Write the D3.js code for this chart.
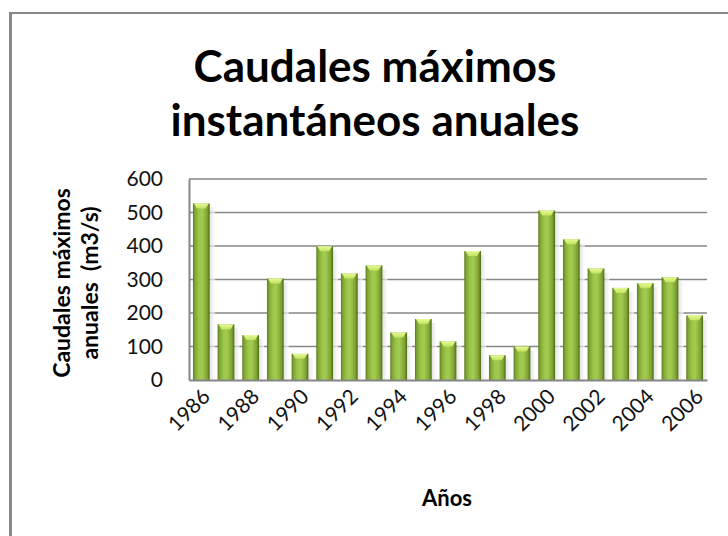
<!DOCTYPE html>
<html><head><meta charset="utf-8">
<script src="https://cdn.jsdelivr.net/npm/d3@7/dist/d3.min.js"></script>
<style>html,body{margin:0;padding:0;background:#fff;}svg{display:block;}</style>
</head><body>
<script>
const years = d3.range(1986, 2007).map(String);
const caudales = [527, 166, 134, 303, 78, 399, 318, 342, 142, 182, 115, 385, 74, 100, 506, 420, 333, 275, 289, 307, 193];
const yTicks = [0, 100, 200, 300, 400, 500, 600];
const xTickLabels = ["1986","1988","1990","1992","1994","1996","1998","2000","2002","2004","2006"];
const titleLines = ["Caudales máximos", "instantáneos anuales"];
const yTitleLines = ["Caudales máximos", "anuales\u00a0\u00a0(m3/s)"];
const xTitle = "Años";

const W = 728, H = 536;
const m = {left: 189, right: 21, top: 179, bottom: 156};
const svg = d3.select("body").append("svg").attr("width", W).attr("height", H);
const font = "Lato, 'Open Sans', sans-serif";

// outer frame
svg.append("line").attr("x1", 10).attr("x2", W).attr("y1", 13).attr("y2", 13).attr("stroke", "#888").attr("stroke-width", 2);
svg.append("line").attr("x1", 10.5).attr("x2", 10.5).attr("y1", 12).attr("y2", H).attr("stroke", "#888").attr("stroke-width", 3);

const x = d3.scaleBand().domain(years).range([m.left, W - m.right]).paddingInner(0.32).paddingOuter(0.16);
const y = d3.scaleLinear().domain([0, 600]).range([H - m.bottom, m.top]);

const defs = svg.append("defs");
const g1 = defs.append("linearGradient").attr("id", "barg").attr("x1", "0").attr("x2", "1").attr("y1", "0").attr("y2", "0");
[[0, "#5b7a1f"], [0.12, "#7fa634"], [0.35, "#9cc64a"], [0.55, "#a3cb4f"], [0.85, "#7ea332"], [1, "#4e6a1a"]].forEach(([o, c]) =>
  g1.append("stop").attr("offset", o).attr("stop-color", c));
const g2 = defs.append("linearGradient").attr("id", "capg").attr("x1", "0").attr("x2", "0").attr("y1", "0").attr("y2", "1");
[[0, "#e6fa98"], [1, "#c3e35e"]].forEach(([o, c]) => g2.append("stop").attr("offset", o).attr("stop-color", c));
const g3 = defs.append("linearGradient").attr("id", "shadg").attr("x1", "0").attr("x2", "1").attr("y1", "0").attr("y2", "0");
[[0, "#d8d8d8"], [1, "#ffffff"]].forEach(([o, c]) => g3.append("stop").attr("offset", o).attr("stop-color", c).attr("stop-opacity", 1));

// gridlines
svg.append("g").selectAll("line").data(yTicks.filter(d => d > 0)).join("line")
  .attr("x1", m.left).attr("x2", W - m.right)
  .attr("y1", d => y(d)).attr("y2", d => y(d))
  .attr("stroke", "#868686").attr("stroke-width", 1.5);

// y axis
const yAxis = svg.append("g").attr("transform", `translate(${m.left},0)`)
  .call(d3.axisLeft(y).tickValues(yTicks).tickSize(0).tickPadding(26));
yAxis.select(".domain").attr("stroke", "#868686").attr("stroke-width", 2);
yAxis.selectAll("text").attr("font-family", font).attr("font-size", 21).attr("fill", "#111");

// bars
const bars = svg.append("g");
bars.selectAll("rect.sh").data(caudales).join("rect").attr("class", "sh")
  .attr("x", (d, i) => x(years[i]) + x.bandwidth())
  .attr("y", d => y(d) + 4)
  .attr("width", 5)
  .attr("height", d => y(0) - y(d) - 4)
  .attr("fill", "url(#shadg)").attr("opacity", 0.7);
bars.selectAll("rect.b").data(caudales).join("rect").attr("class", "b")
  .attr("x", (d, i) => x(years[i]))
  .attr("y", d => y(d))
  .attr("width", x.bandwidth())
  .attr("height", d => y(0) - y(d))
  .attr("fill", "url(#barg)");
bars.selectAll("path.cap").data(caudales).join("path").attr("class", "cap")
  .attr("d", (d, i) => {
    const x0 = x(years[i]), w = x.bandwidth(), t = y(d);
    return `M${x0 + 1},${t} L${x0 + w - 1},${t} L${x0 + w - 4},${t + 5} L${x0 + 4},${t + 5} Z`;
  })
  .attr("fill", "url(#capg)");

// x axis
const xAxis = svg.append("g").attr("transform", `translate(0,${y(0)})`)
  .call(d3.axisBottom(x).tickValues(xTickLabels).tickSize(0).tickPadding(0));
xAxis.select(".domain").attr("stroke", "#868686").attr("stroke-width", 2);
xAxis.selectAll("text")
  .attr("font-family", font).attr("font-size", 21).attr("fill", "#111")
  .attr("text-anchor", "end").attr("dy", null).attr("y", 0)
  .attr("transform", `translate(10,18) rotate(-45)`);

// titles
const t = svg.append("text").attr("text-anchor", "middle").attr("font-family", font)
  .attr("font-weight", "bold").attr("font-size", 44).attr("fill", "#000");
titleLines.forEach((s, i) => t.append("tspan").attr("x", 375).attr("y", 82 + i * 54).text(s));

const yt = svg.append("g").attr("transform", `translate(0,283) rotate(-90)`);
yt.append("text").attr("x", 0).attr("y", 70).attr("text-anchor", "middle").attr("font-family", font)
  .attr("font-weight", "bold").attr("font-size", 23).attr("fill", "#000").text(yTitleLines[0]);
yt.append("text").attr("x", 0).attr("y", 98).attr("text-anchor", "middle").attr("font-family", font)
  .attr("font-weight", "bold").attr("font-size", 23).attr("fill", "#000").text(yTitleLines[1]);

svg.append("text").attr("x", 447).attr("y", 506).attr("text-anchor", "middle").attr("font-family", font)
  .attr("font-weight", "bold").attr("font-size", 22).attr("fill", "#000").text(xTitle);
</script>
</body></html>
